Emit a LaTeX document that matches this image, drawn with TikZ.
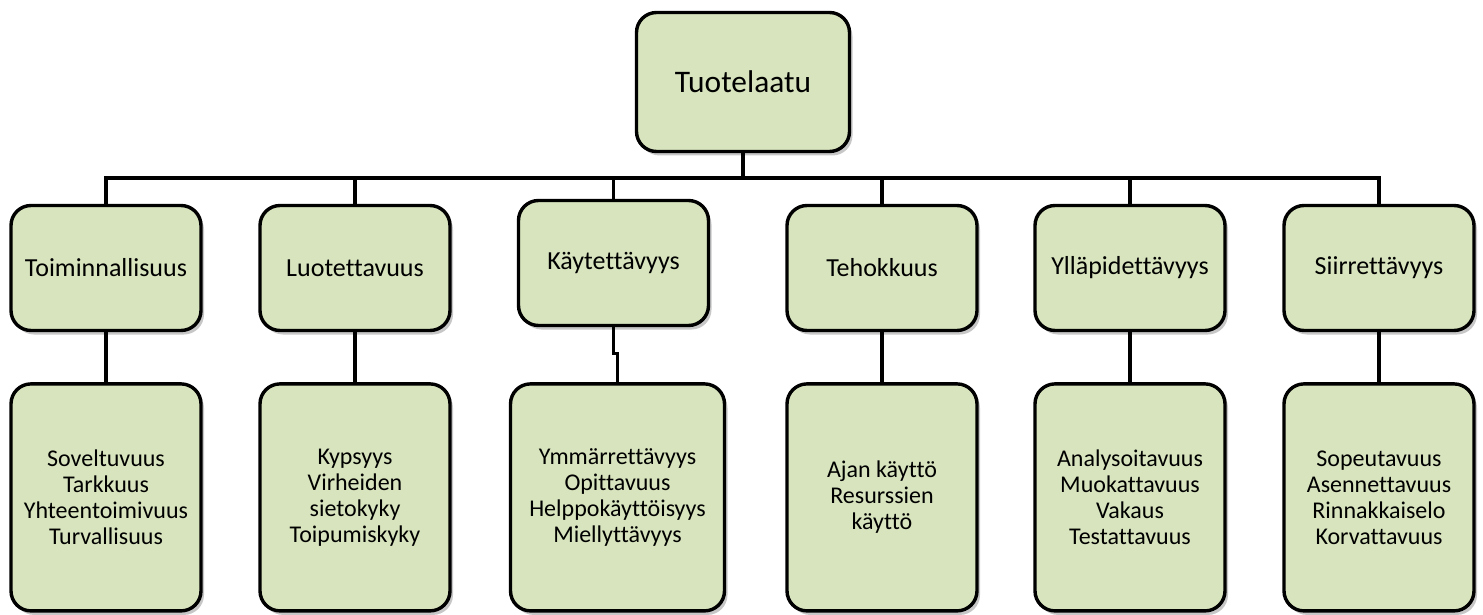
\documentclass[tikz,border=0pt]{standalone}
\usepackage{fontspec}
\setmainfont[Ligatures=NoCommon]{Carlito}
\usetikzlibrary{positioning,shadows}
\definecolor{boxgreen}{HTML}{D7E4BD}
\tikzset{
    softshadow/.style = {drop shadow={shadow xshift=1.5pt, shadow yshift=-2pt, opacity=0.22, fill=black}},
    topbox/.style = {rectangle, rounded corners=10pt, minimum width=106.5pt, minimum height=69.5pt, text centered, draw=black, line width=1.7pt, fill=boxgreen, softshadow, font=\fontsize{15.7}{19}\selectfont},
    mainbox/.style = {rectangle, rounded corners=10pt, minimum width=95pt, minimum height=62.5pt, text centered, draw=black, line width=1.7pt, fill=boxgreen, softshadow, font=\fontsize{13}{16}\selectfont},
    subbox/.style = {rectangle, rounded corners=10pt, minimum width=95pt, minimum height=113.5pt, align=center, draw=black, line width=1.7pt, fill=boxgreen, softshadow, font=\fontsize{12}{13}\selectfont},
    conn/.style = {line width=1.6pt}
}
\begin{document}
\begin{tikzpicture}[x=0.5pt, y=-0.5pt]
\useasboundingbox (0,0) rectangle (1483,615);
\node (tuote) [topbox] at (743,82) {Tuotelaatu};

\node (toim) [mainbox] at (106,268) {Toiminnallisuus};
\node (luot) [mainbox] at (355,268) {Luotettavuus};
\node (kayt) [mainbox] at (613.5,263) {Käytettävyys};
\node (teho) [mainbox] at (882,268) {Tehokkuus};
\node (yllap) [mainbox] at (1130,268) {Ylläpidettävyys};
\node (siir) [mainbox] at (1379,268) {Siirrettävyys};

\node (toimL) [subbox, below=25pt of toim] {Soveltuvuus\\Tarkkuus\\Yhteentoimivuus\\Turvallisuus};
\node (luotL) [subbox, below=25pt of luot] {Kypsyys\\Virheiden\\sietokyky\\Toipumiskyky};
\node (kaytL) [subbox, minimum width=107pt, below=27.5pt of kayt, xshift=2pt] {Ymmärrettävyys\\Opittavuus\\Helppokäyttöisyys\\Miellyttävyys};
\node (tehoL) [subbox, below=25pt of teho] {Ajan käyttö\\Resurssien\\käyttö};
\node (yllapL) [subbox, below=25pt of yllap] {Analysoitavuus\\Muokattavuus\\Vakaus\\Testattavuus};
\node (siirL) [subbox, below=25pt of siir] {Sopeutavuus\\Asennettavuus\\Rinnakkaiselo\\Korvattavuus};

\coordinate (bar) at (743,178);
\foreach \n in {toim,luot,kayt,teho,yllap,siir}
    \draw [conn] (tuote.south) |- (\n.north |- bar) -- (\n.north);

\foreach \n in {toim,luot,teho,yllap,siir}
    \draw [conn] (\n.south) -- (\n L.north);
\draw [conn] (kayt.south) -- ++(0,26) -| (kaytL.north);
\end{tikzpicture}
\end{document}
